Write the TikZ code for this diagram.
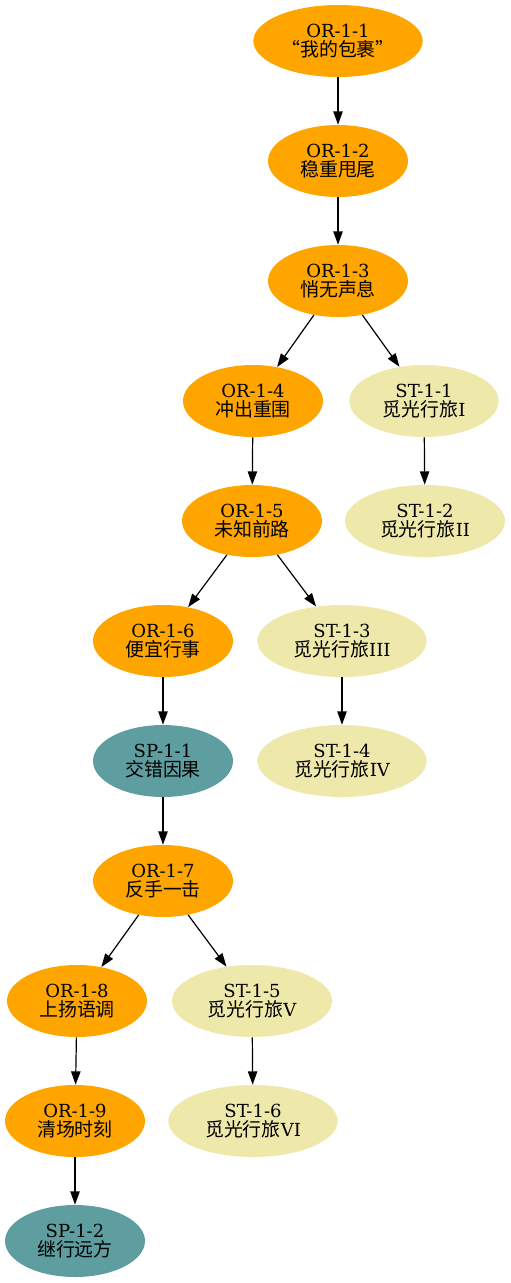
\documentclass[tikz,border=0pt]{standalone}
\usepackage{fontspec}
\setmainfont{DejaVu Serif}
\newfontfamily\cjk{Noto Sans CJK SC}
\usetikzlibrary{arrows.meta,shapes.geometric}
\definecolor{orColor}{HTML}{FFA500}
\definecolor{stColor}{HTML}{EEE8AA}
\definecolor{spColor}{HTML}{5F9EA0}
\newcommand{\lbl}[2]{#1\\{\cjk\fontsize{14.2}{14.5}\selectfont #2}}
\newcommand{\stlbl}[2]{ST-1-#1\\{\cjk\fontsize{14.2}{14.5}\selectfont 觅光行旅}#2}

\begin{document}
\begin{tikzpicture}[
x=0.75pt,y=-0.75pt,
box/.style={ellipse,inner sep=0pt,minimum height=54pt,align=center,
  font=\fontsize{13.5}{14.5}\selectfont},
orbox/.style={box,fill=orColor,minimum width=105pt},
stbox/.style={box,fill=stColor,minimum width=120pt},
spbox/.style={box,fill=spColor,minimum width=105pt},
link/.style={draw,line width=0.9pt,-{Triangle[length=10pt,width=7pt]}},
]
\useasboundingbox (0,0) rectangle (511,1283);
% main line
\node[orbox,minimum width=127pt] (or1) at (338,41) {\lbl{OR-1-1}{“我的包裹”}};
\node[orbox] (or2) at (338,161) {\lbl{OR-1-2}{稳重甩尾}};
\node[orbox] (or3) at (338,281) {\lbl{OR-1-3}{悄无声息}};
\node[orbox] (or4) at (253,401) {\lbl{OR-1-4}{冲出重围}};
\node[orbox] (or5) at (252,521) {\lbl{OR-1-5}{未知前路}};
\node[orbox] (or6) at (163,641) {\lbl{OR-1-6}{便宜行事}};
\node[spbox] (sp1) at (163,761) {\lbl{SP-1-1}{交错因果}};
\node[orbox] (or7) at (163,881) {\lbl{OR-1-7}{反手一击}};
\node[orbox] (or8) at (77,1001) {\lbl{OR-1-8}{上扬语调}};
\node[orbox] (or9) at (75,1121) {\lbl{OR-1-9}{清场时刻}};
\node[spbox] (sp2) at (75,1241) {\lbl{SP-1-2}{继行远方}};
% side quests
\node[stbox,minimum width=112pt] (st1) at (424,401) {\stlbl{1}{I}};
\node[stbox] (st2) at (425,521) {\stlbl{2}{II}};
\node[stbox,minimum width=127pt] (st3) at (342,641) {\stlbl{3}{III}};
\node[stbox,minimum width=127pt] (st4) at (342,761) {\stlbl{4}{IV}};
\node[stbox] (st5) at (252,1001) {\stlbl{5}{V}};
\node[stbox,minimum width=127pt] (st6) at (253,1121) {\stlbl{6}{VI}};
\path[link]
  (or1) edge (or2) (or2) edge (or3)
  (or3) edge (or4) (or3) edge (st1) (st1) edge (st2)
  (or4) edge (or5)
  (or5) edge (or6) (or5) edge (st3) (st3) edge (st4)
  (or6) edge (sp1) (sp1) edge (or7)
  (or7) edge (or8) (or7) edge (st5) (st5) edge (st6)
  (or8) edge (or9) (or9) edge (sp2);
\end{tikzpicture}
\end{document}
